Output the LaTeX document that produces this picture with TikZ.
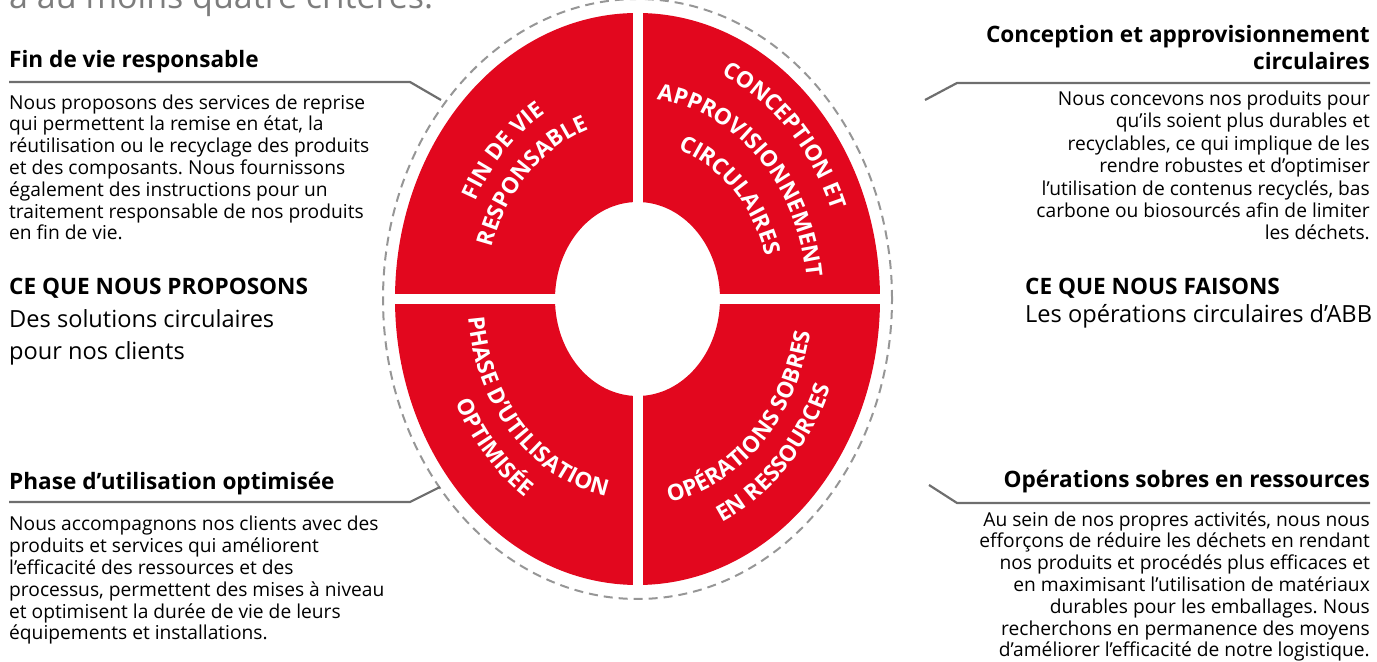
\documentclass[tikz,border=0pt]{standalone}
\usepackage{fontspec}
\setmainfont{Open Sans}
\frenchspacing
\usetikzlibrary{decorations.text}
\definecolor{abbred}{RGB}{226,7,30}
\definecolor{linegray}{RGB}{110,110,110}
\definecolor{dashgray}{RGB}{150,150,150}
\definecolor{introgray}{RGB}{125,125,125}
\newcommand\ringfont{\bfseries\fontsize{22.5bp}{22.5bp}\selectfont}
\tikzset{
  heading/.style={font=\bfseries\fontsize{22.6bp}{27bp}\selectfont, inner sep=0pt},
  body/.style={font=\fontsize{19.2bp}{21.8bp}\selectfont, inner sep=0pt},
  lead/.style={font=\fontsize{23.6bp}{32bp}\selectfont, inner sep=0pt},
  ringtext/.style={decorate, decoration={text along path, text align=center, text color=white, text={|\ringfont|#1}}},
  leader/.style={linegray, line width=2.2bp},
}
\begin{document}
\begin{tikzpicture}[x=1bp,y=1bp]
\useasboundingbox (0,0) rectangle (1377,662);
\coordinate (ctr) at (637.5,363);
\node[anchor=base west, inner sep=0pt, text=introgray, font=\fontsize{34bp}{34bp}\selectfont] (intro) at (9,653) {à au moins quatre critères.};

\draw[dashgray, line width=2bp, dash pattern=on 9bp off 6bp] (ctr) ellipse [x radius=254.5, y radius=300];
\fill[abbred, even odd rule] (ctr) ellipse [x radius=242.5, y radius=286] (ctr) ellipse [x radius=82.5, y radius=97];
\draw[white, line width=10bp] ([yshift=292bp]ctr) -- ([yshift=-292bp]ctr);
\draw[white, line width=10bp] ([xshift=-248bp]ctr) -- ([xshift=248bp]ctr);

\path[ringtext={FIN DE VIE}] ([shift={(175:182 and 214.8)}]ctr) arc[start angle=175, end angle=95, x radius=182, y radius=214.8];
\path[ringtext={RESPONSABLE}] ([shift={(175:152 and 179.4)}]ctr) arc[start angle=175, end angle=95, x radius=152, y radius=179.4];
\path[ringtext={CONCEPTION ET}] ([shift={(85:208 and 245.4)}]ctr) arc[start angle=85, end angle=5, x radius=208, y radius=245.4];
\path[ringtext={APPROVISIONNEMENT}] ([shift={(85:170 and 200.6)}]ctr) arc[start angle=85, end angle=5, x radius=170, y radius=200.6];
\path[ringtext={CIRCULAIRES}] ([shift={(85:133 and 156.9)}]ctr) arc[start angle=85, end angle=5, x radius=133, y radius=156.9];
\path[ringtext={PHASE D’UTILISATION}] ([shift={(178:170 and 200.6)}]ctr) arc[start angle=178, end angle=268, x radius=170, y radius=200.6];
\path[ringtext={OPTIMISÉE}] ([shift={(178:202 and 238.4)}]ctr) arc[start angle=178, end angle=268, x radius=202, y radius=238.4];
\path[ringtext={OPÉRATIONS SOBRES}] ([shift={(272:175 and 206.5)}]ctr) arc[start angle=272, end angle=358, x radius=175, y radius=206.5];
\path[ringtext={EN RESSOURCES}] ([shift={(272:207 and 244.3)}]ctr) arc[start angle=272, end angle=358, x radius=207, y radius=244.3];

\node[heading, anchor=base west] (fin) at (9,594) {Fin de vie responsable};
\node[body, anchor=base west, align=left] (fintxt) at (9,422) {Nous proposons des services de reprise\\qui permettent la remise en état, la\\réutilisation ou le recyclage des produits\\et des composants. Nous fournissons\\également des instructions pour un\\traitement responsable de nos produits\\en fin de vie.};
\node[heading, anchor=base west] (offre) at (9,367) {CE QUE NOUS PROPOSONS};
\node[lead, anchor=base west, align=left] (offretxt) at (9,302) {Des solutions circulaires\\pour nos clients};

\node[heading, anchor=base east, align=right] (conc) at (1370,592) {Conception et approvisionnement\\circulaires};
\node[body, anchor=base east, align=right, font=\fontsize{19.2bp}{22.4bp}\selectfont] (conctxt) at (1370,422) {Nous concevons nos produits pour\\qu’ils soient plus durables et\\recyclables, ce qui implique de les\\rendre robustes et d’optimiser\\l’utilisation de contenus recyclés, bas\\carbone ou biosourcés afin de limiter\\les déchets.};
\node[heading, anchor=base west] (faire) at (1025,367) {CE QUE NOUS FAISONS};
\node[lead, anchor=base west] (fairetxt) at (1025,339) {Les opérations circulaires d’ABB};

\node[heading, anchor=base west] (phase) at (9,172) {Phase d’utilisation optimisée};
\node[body, anchor=base west, align=left] (phasetxt) at (9,22) {Nous accompagnons nos clients avec des\\produits et services qui améliorent\\l’efficacité des ressources et des\\processus, permettent des mises à niveau\\et optimisent la durée de vie de leurs\\équipements et installations.};
\node[heading, anchor=base east] (oper) at (1370,174) {Opérations sobres en ressources};
\node[body, anchor=base east, align=right] (opertxt) at (1370,5) {Au sein de nos propres activités, nous nous\\efforçons de réduire les déchets en rendant\\nos produits et procédés plus efficaces et\\en maximisant l’utilisation de matériaux\\durables pour les emballages. Nous\\recherchons en permanence des moyens\\d’améliorer l’efficacité de notre logistique.};

\coordinate (finA) at (410,580);
\coordinate (finB) at (441,562);
\coordinate (concA) at (957,579);
\coordinate (concB) at (925,562);
\coordinate (phaseA) at (410,160);
\coordinate (phaseB) at (440,175);
\coordinate (operA) at (957,159);
\coordinate (operB) at (929,177);
\draw[leader] (fin.west |- finA) -- (finA) -- (finB);
\draw[leader] (conc.east |- concA) -- (concA) -- (concB);
\draw[leader] (phase.west |- phaseA) -- (phaseA) -- (phaseB);
\draw[leader] (oper.east |- operA) -- (operA) -- (operB);
\end{tikzpicture}
\end{document}
